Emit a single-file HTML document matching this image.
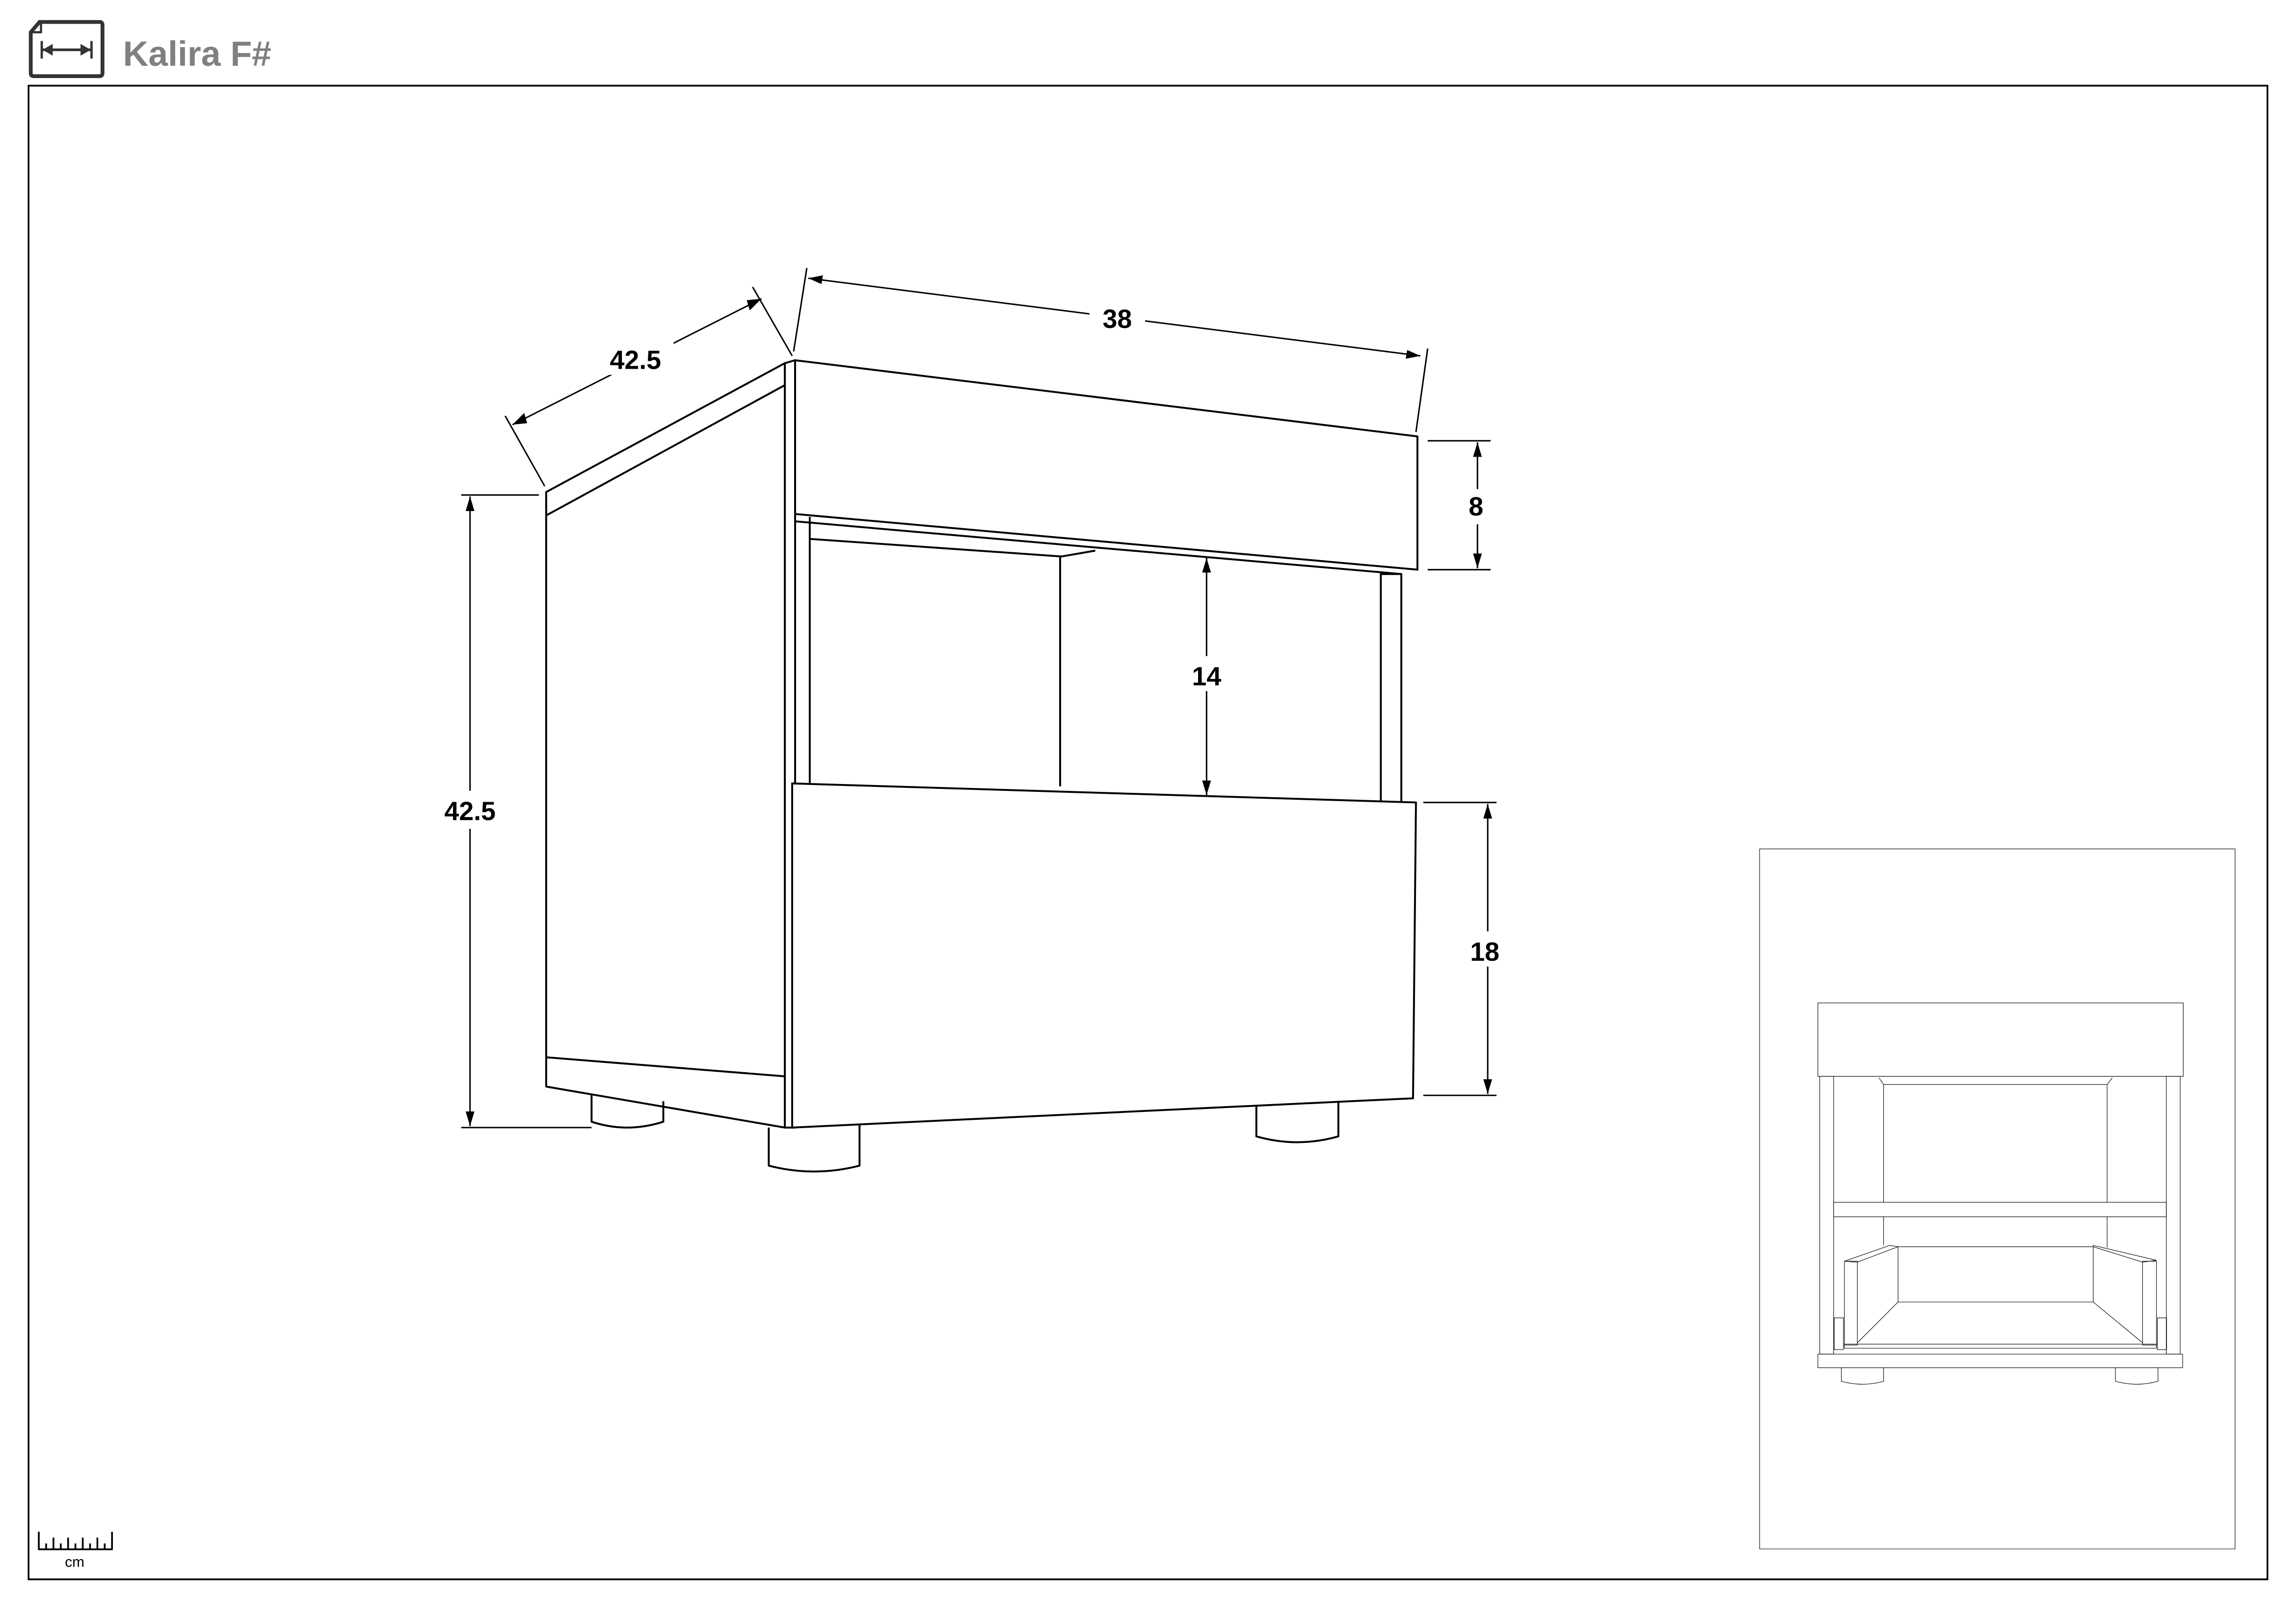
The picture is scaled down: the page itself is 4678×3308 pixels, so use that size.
<!DOCTYPE html>
<html><head><meta charset="utf-8"><style>
html,body{margin:0;padding:0;background:#fff;}
svg{display:block;}
text{font-family:"Liberation Sans",sans-serif;font-weight:bold;}
</style></head><body>
<svg width="4678" height="3308" viewBox="0 0 1568 1109" preserveAspectRatio="none" xmlns="http://www.w3.org/2000/svg">
<rect width="1568" height="1109" fill="#fff"/>
<path d="M27,15 H68 Q70,15 70,17 V50 Q70,52 68,52 H23 Q21,52 21,50 V22 L27,15 Z" fill="none" stroke="#333" stroke-width="2.6"/>
<path d="M21,22 H28 V15" fill="none" stroke="#333" stroke-width="1.5"/>
<line x1="29" y1="34" x2="62" y2="34" stroke="#333" stroke-width="1.8"/>
<line x1="28.5" y1="28" x2="28.5" y2="40" stroke="#333" stroke-width="1.6"/>
<line x1="62.5" y1="28" x2="62.5" y2="40" stroke="#333" stroke-width="1.6"/>
<polygon points="29,34 36,30 36,38" fill="#333"/><polygon points="62,34 55,30 55,38" fill="#333"/>
<text x="84" y="45" font-size="24" fill="#808080">Kalira F#</text>
<rect x="19.5" y="58.5" width="1529" height="1020" fill="none" stroke="#000" stroke-width="1.2"/>

<g fill="none" stroke="#000" stroke-width="1.3" stroke-linejoin="round">
<polygon points="373,336 536,248 536,770 373,742" fill="#fff"/>
<line x1="373" y1="352" x2="536" y2="263"/>
<line x1="373" y1="722" x2="536" y2="735"/>
<path d="M404,748 V766 Q428,774 453,766 V752"/>
<path d="M525,770 V796 Q556,804 587,796 V768"/>
<path d="M858,752 V776 Q886,784 914,776 V750"/>
<polygon points="536,248 543,246 543,770 536,770" fill="#fff"/>
<line x1="553" y1="353" x2="553" y2="535"/>
<polyline points="553,368 725,380 748,376"/>
<line x1="724" y1="380" x2="724" y2="537"/>
<polygon points="943,392 957,392 957,548 943,548" fill="#fff"/>
<polygon points="543,246 968,298 968,389 543,351" fill="#fff"/>
<line x1="543" y1="356" x2="957" y2="392"/>
<polygon points="541,535 967,548 965,750 541,770" fill="#fff"/>
</g>

<g stroke="#000" stroke-width="1" fill="none">
<line x1="350" y1="290" x2="520" y2="204"/>
<line x1="345" y1="284" x2="372" y2="332"/><line x1="514" y1="196" x2="541" y2="243"/>
<line x1="552" y1="190" x2="970" y2="243"/>
<line x1="551" y1="183" x2="542" y2="240"/><line x1="975" y1="238" x2="967" y2="295"/>
<line x1="975" y1="301" x2="1018" y2="301"/><line x1="975" y1="389" x2="1018" y2="389"/>
<line x1="1009" y1="302" x2="1009" y2="388"/>
<line x1="824" y1="381" x2="824" y2="543"/>
<line x1="972" y1="548" x2="1022" y2="548"/><line x1="972" y1="748" x2="1022" y2="748"/>
<line x1="1016" y1="549" x2="1016" y2="747"/>
<line x1="315" y1="338" x2="368" y2="338"/><line x1="315" y1="770" x2="404" y2="770"/>
<line x1="321" y1="339" x2="321" y2="769"/>
</g>
<g fill="#000">
<polygon points="350,290 358,282 360,289"/><polygon points="520,204 512,212 510,205"/>
<polygon points="552,190 562,188 561,194"/><polygon points="970,243 960,245 961,239"/>
<polygon points="1009,302 1006,312 1012,312"/><polygon points="1009,388 1006,378 1012,378"/>
<polygon points="824,381 821,391 827,391"/><polygon points="824,543 821,533 827,533"/>
<polygon points="1016,549 1013,559 1019,559"/><polygon points="1016,747 1013,737 1019,737"/>
<polygon points="321,339 318,349 324,349"/><polygon points="321,769 318,759 324,759"/>
</g>
<g font-size="18" text-anchor="middle">
<rect x="408" y="232" width="52" height="24" fill="#fff"/><text x="434" y="252">42.5</text>
<rect x="744" y="205" width="38" height="24" fill="#fff"/><text x="763" y="224">38</text>
<rect x="999" y="334" width="18" height="24" fill="#fff"/><text x="1008" y="352">8</text>
<rect x="808" y="448" width="32" height="24" fill="#fff"/><text x="824" y="468">14</text>
<rect x="1000" y="636" width="30" height="24" fill="#fff"/><text x="1014" y="656">18</text>
<rect x="296" y="540" width="52" height="26" fill="#fff"/><text x="321" y="560">42.5</text>
</g>

<g stroke="#000" stroke-width="1.2" fill="none">
<line x1="26" y1="1058" x2="77" y2="1058"/>
<line x1="26.5" y1="1046" x2="26.5" y2="1058"/><line x1="76.5" y1="1046" x2="76.5" y2="1058"/>
<line x1="36.5" y1="1050" x2="36.5" y2="1058"/><line x1="46.5" y1="1050" x2="46.5" y2="1058"/>
<line x1="56.5" y1="1050" x2="56.5" y2="1058"/><line x1="66.5" y1="1050" x2="66.5" y2="1058"/>
<line x1="31.5" y1="1054" x2="31.5" y2="1058"/><line x1="41.5" y1="1054" x2="41.5" y2="1058"/>
<line x1="51.5" y1="1054" x2="51.5" y2="1058"/><line x1="61.5" y1="1054" x2="61.5" y2="1058"/><line x1="71.5" y1="1054" x2="71.5" y2="1058"/>
</g>
<text x="51" y="1070" font-size="10" text-anchor="middle" style="font-weight:normal">cm</text>

<svg x="1200" y="576.6" width="328.5" height="482.7" viewBox="0 0 1560 1560" preserveAspectRatio="none">
<g fill="none" stroke="#000" stroke-width="1.1">
<rect x="8" y="10" width="1542" height="1545" vector-effect="non-scaling-stroke"/>
<rect x="197" y="350" width="1185" height="162" vector-effect="non-scaling-stroke"/>
<rect x="203" y="512" width="45" height="613" vector-effect="non-scaling-stroke"/>
<rect x="1327" y="512" width="45" height="613" vector-effect="non-scaling-stroke"/>
<polyline points="395,515 410,530 1135,530 1152,515" vector-effect="non-scaling-stroke"/>
<line x1="410" y1="530" x2="410" y2="790" vector-effect="non-scaling-stroke"/>
<line x1="1135" y1="530" x2="1135" y2="790" vector-effect="non-scaling-stroke"/>
<line x1="410" y1="822" x2="410" y2="885" vector-effect="non-scaling-stroke"/>
<line x1="1135" y1="822" x2="1135" y2="890" vector-effect="non-scaling-stroke"/>
<rect x="248" y="790" width="1079" height="32" vector-effect="non-scaling-stroke"/>
<rect x="457" y="888" width="633" height="122" vector-effect="non-scaling-stroke"/>
<polygon points="283,920 430,885 457,888 325,922" vector-effect="non-scaling-stroke"/>
<rect x="283" y="920" width="42" height="185" vector-effect="non-scaling-stroke"/>
<polygon points="1090,885 1295,918 1250,922 1090,888" vector-effect="non-scaling-stroke"/>
<rect x="1250" y="920" width="45" height="185" vector-effect="non-scaling-stroke"/>
<line x1="457" y1="1010" x2="325" y2="1100" vector-effect="non-scaling-stroke"/>
<line x1="1090" y1="1010" x2="1250" y2="1100" vector-effect="non-scaling-stroke"/>
<rect x="283" y="1103" width="1012" height="9" vector-effect="non-scaling-stroke"/>
<rect x="197" y="1125" width="1183" height="30" vector-effect="non-scaling-stroke"/>
<path d="M273,1155 V1185 Q341,1198 410,1185 V1155" vector-effect="non-scaling-stroke"/>
<path d="M1162,1155 V1185 Q1231,1198 1300,1185 V1155" vector-effect="non-scaling-stroke"/>
<rect x="250" y="1045" width="30" height="70" vector-effect="non-scaling-stroke"/>
<rect x="1298" y="1045" width="30" height="70" vector-effect="non-scaling-stroke"/>
</g>
</svg>
</svg>
</body></html>
